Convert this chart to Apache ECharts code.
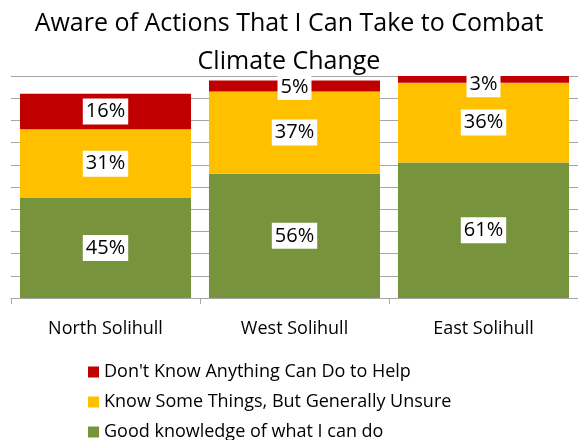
<!DOCTYPE html>
<html>
<head>
<meta charset="utf-8">
<script src="https://cdn.jsdelivr.net/npm/echarts@6/dist/echarts.min.js"></script>
<style>html,body{margin:0;padding:0;background:#fff;}#c{width:578px;height:440px;}</style>
</head>
<body>
<div id="c"></div>
<script>
var categories = ['North Solihull', 'West Solihull', 'East Solihull'];
var goodKnowledge = [45, 56, 61];
var knowSome = [31, 37, 36];
var dontKnow = [16, 5, 3];
var seriesNames = ["Good knowledge of what I can do", "Know Some Things, But Generally Unsure", "Don't Know Anything Can Do to Help"];
var colors = ['#77933C', '#FFC000', '#C00000'];

var FONT = 'Open Sans';
var chart = echarts.init(document.getElementById('c'));
function lbl() {
  return {
    show: true, position: 'inside', formatter: '{c}%',
    color: '#000', fontFamily: FONT, fontSize: 20,
    backgroundColor: '#fff', padding: [4, 3, 2, 3]
  };
}
var data = [goodKnowledge, knowSome, dontKnow];
var series = data.map(function (d, i) {
  var vals = d.map(function (v) { return v; });
  if (i === 2) {
    // small top segments: labels pushed down to stay inside the plot
    vals = d.map(function (v, j) {
      var off = j === 1 ? 1 : (j === 2 ? 5 : 0);
      return { value: v, label: { offset: [0, off] } };
    });
  }
  return {
    name: seriesNames[i], type: 'bar', stack: 'total', data: vals,
    barCategoryGap: '9.5%',
    itemStyle: { color: colors[i] },
    label: lbl()
  };
});
chart.setOption({
  animation: false,
  title: {
    text: 'Aware of Actions That I Can Take to Combat\nClimate Change',
    left: 'center', top: 0,
    textStyle: { fontFamily: FONT, fontSize: 25, fontWeight: 'normal', color: '#000', lineHeight: 38 }
  },
  legend: {
    orient: 'vertical', left: 88, top: 363, height: 120, padding: 0,
    itemWidth: 11, itemHeight: 11, itemGap: 12,
    icon: 'rect',
    data: [seriesNames[2], seriesNames[1], seriesNames[0]],
    textStyle: { fontFamily: FONT, fontSize: 18, color: '#000', lineHeight: 17 }
  },
  grid: { left: 11, right: -8, top: 76, bottom: 142, containLabel: false },
  xAxis: {
    type: 'category', data: categories,
    axisLine: { lineStyle: { color: '#a6a6a6' } },
    axisTick: { show: true, length: 6, lineStyle: { color: '#a6a6a6' } },
    axisLabel: { fontFamily: FONT, fontSize: 18, color: '#000', margin: 22 }
  },
  yAxis: {
    type: 'value', min: 0, max: 100, interval: 10,
    axisLabel: { show: false }, axisLine: { show: false }, axisTick: { show: false },
    splitLine: { lineStyle: { color: '#a6a6a6' } }
  },
  series: series
});
</script>
</body>
</html>
